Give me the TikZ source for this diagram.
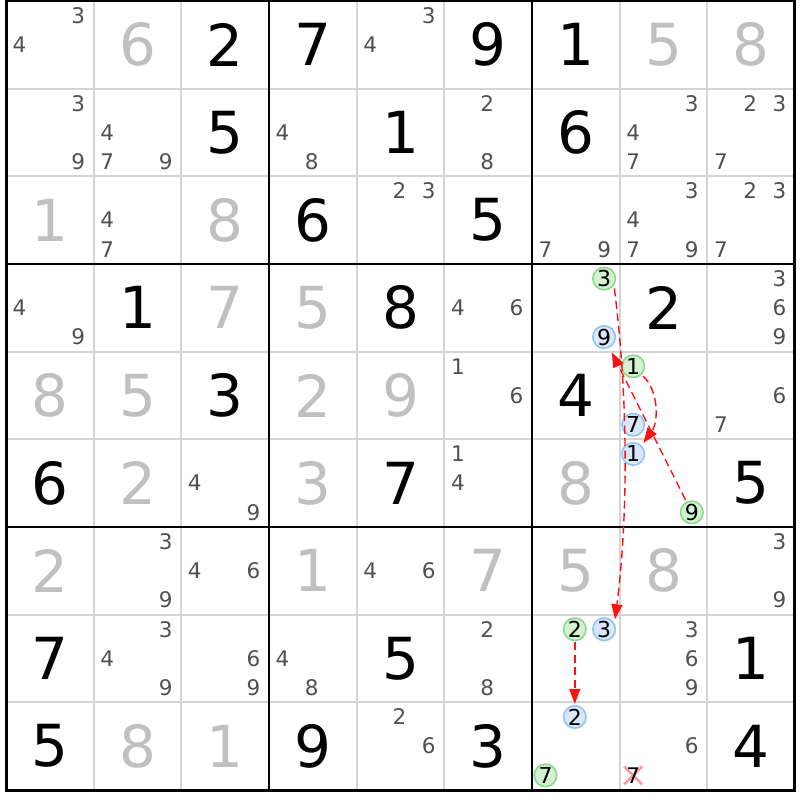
\documentclass[tikz,border=0pt]{standalone}
\usepackage{fontspec}
\setmainfont{DejaVu Sans}
\usetikzlibrary{arrows.meta}
\definecolor{thinline}{HTML}{D4D4D4}
\definecolor{givengray}{HTML}{C0C0C0}
\definecolor{candgray}{HTML}{505050}
\definecolor{gfill}{HTML}{D2F2D2}
\definecolor{gline}{HTML}{8ED88E}
\definecolor{bfill}{HTML}{D8E8FA}
\definecolor{bline}{HTML}{92C4F4}
\definecolor{arrowred}{HTML}{FF1010}
\definecolor{crosspink}{HTML}{F2A0A0}
\newcommand\hlcand[5]{% name style row col digit
  \pgfmathsetmacro\hx{6+87.667*#4+13.5+29.3*mod(#5-1,3)}%
  \pgfmathsetmacro\hy{1+87.667*#3+14.6+29.22*floor((#5-1)/3)}%
  \node[#2] (#1) at (\hx,\hy) {#5};}
\begin{document}
\begin{tikzpicture}[x=1pt,y=-1pt,
  bigsolved/.style={inner sep=0pt, font=\fontsize{58}{60}\selectfont, text=black},
  biggiven/.style={bigsolved, text=givengray},
  candtxt/.style={inner sep=0pt, font=\fontsize{21.5}{24}\selectfont, text=candgray},
  crossedtxt/.style={candtxt, text=black},
  hlgreen/.style={circle, inner sep=0pt, minimum size=22.5pt, draw=gline, fill=gfill, line width=1.6pt, font=\fontsize{22}{24}\selectfont, text=black},
  hlblue/.style={hlgreen, draw=bline, fill=bfill},
  thingrid/.style={draw=thinline, line width=1.8pt},
  thickgrid/.style={draw=black, line width=2.6pt},
  linkarrow/.style={draw=arrowred, line width=1.4pt, dash pattern=on 8pt off 4.5pt, -{Triangle[length=15pt,width=11pt]}},
  crossmark/.style={draw=crosspink, line width=2.6pt},
  ]
\useasboundingbox (0,0) rectangle (800,800);
\fill[white] (0,0) rectangle (800,800);
% thin grid
\foreach \i in {1,2,4,5,7,8} {
  \draw[thingrid] ({6+87.667*\i},1) -- ({6+87.667*\i},790);
  \draw[thingrid] (6,{1+87.667*\i}) -- (795,{1+87.667*\i});
}
% thick grid
\foreach \i in {3,6} {
  \draw[thickgrid] ({6+87.667*\i},1) -- ({6+87.667*\i},790);
  \draw[thickgrid] (6,{1+87.667*\i}) -- (795,{1+87.667*\i});
}
\draw[draw=black, line width=3pt] (6,1) rectangle (794.5,790.5);
% solved values (black)
\foreach \r/\c/\d in {0/2/2,0/3/7,0/5/9,0/6/1,1/2/5,1/4/1,1/6/6,2/3/6,2/5/5,
  3/1/1,3/4/8,3/7/2,4/2/3,4/6/4,5/0/6,5/4/7,5/8/5,7/0/7,7/4/5,7/8/1,
  8/0/5,8/3/9,8/5/3,8/8/4} {
  \node[bigsolved] (v\r\c) at ({49.83+87.667*\c},{44.83+87.667*\r}) {\d};
}
% given values (gray)
\foreach \r/\c/\d in {0/1/6,0/7/5,0/8/8,2/0/1,2/2/8,3/2/7,3/3/5,4/0/8,4/1/5,
  4/3/2,4/4/9,5/1/2,5/3/3,5/6/8,6/0/2,6/3/1,6/5/7,6/6/5,6/7/8,8/1/8,8/2/1} {
  \node[biggiven] (v\r\c) at ({49.83+87.667*\c},{44.83+87.667*\r}) {\d};
}
% candidates
\foreach \r/\c/\d in {0/0/3,0/0/4,0/4/3,0/4/4,
  1/0/3,1/0/9,1/1/4,1/1/7,1/1/9,1/3/4,1/3/8,1/5/2,1/5/8,1/7/3,1/7/4,1/7/7,1/8/2,1/8/3,1/8/7,
  2/1/4,2/1/7,2/4/2,2/4/3,2/6/7,2/6/9,2/7/3,2/7/4,2/7/7,2/7/9,2/8/2,2/8/3,2/8/7,
  3/0/4,3/0/9,3/5/4,3/5/6,3/8/3,3/8/6,3/8/9,
  4/5/1,4/5/6,4/8/6,4/8/7,
  5/2/4,5/2/9,5/5/1,5/5/4,
  6/1/3,6/1/9,6/2/4,6/2/6,6/4/4,6/4/6,6/8/3,6/8/9,
  7/1/3,7/1/4,7/1/9,7/2/6,7/2/9,7/3/4,7/3/8,7/5/2,7/5/8,7/7/3,7/7/6,7/7/9,
  8/4/2,8/4/6,8/7/6} {
  \pgfmathsetmacro\kx{6+87.667*\c+13.5+29.3*mod(\d-1,3)}
  \pgfmathsetmacro\ky{1+87.667*\r+14.6+29.22*floor((\d-1)/3)}
  \node[candtxt] (k\r\c\d) at (\kx,\ky) {\d};
}
% crossed-out candidate
\pgfmathsetmacro\kx{6+87.667*7+13.5}
\pgfmathsetmacro\ky{1+87.667*8+14.6+29.22*2}
\coordinate (xc) at (\kx,\ky);
\draw[crossmark] (xc) ++(-9,-9) -- ++(18,18);
\draw[crossmark] (xc) ++(9,-9) -- ++(-18,18);
\node[crossedtxt] (k877) at (xc) {7};
% highlighted candidates
\hlcand{gthree}{hlgreen}{3}{6}{3}
\hlcand{bnine}{hlblue}{3}{6}{9}
\hlcand{gone}{hlgreen}{4}{7}{1}
\hlcand{bseven}{hlblue}{4}{7}{7}
\hlcand{bone}{hlblue}{5}{7}{1}
\hlcand{gnine}{hlgreen}{5}{7}{9}
\hlcand{gtwo}{hlgreen}{7}{6}{2}
\hlcand{bthree}{hlblue}{7}{6}{3}
\hlcand{btwo}{hlblue}{8}{6}{2}
\hlcand{gseven}{hlgreen}{8}{6}{7}
% links
\draw[linkarrow, shorten <=3pt, shorten >=4pt] (gthree.-35) .. controls +(14,110) and +(14,-110) .. (bthree.30);
\draw[linkarrow, shorten <=2pt, shorten >=3pt] (gone.-45) .. controls +(17,16) and +(17,-24) .. (bone.45);
\draw[linkarrow, shorten <=2pt, shorten >=5pt] (gnine) -- (bnine);
\draw[linkarrow, shorten <=1pt, shorten >=1pt] (gtwo) -- (btwo);
\end{tikzpicture}
\end{document}
